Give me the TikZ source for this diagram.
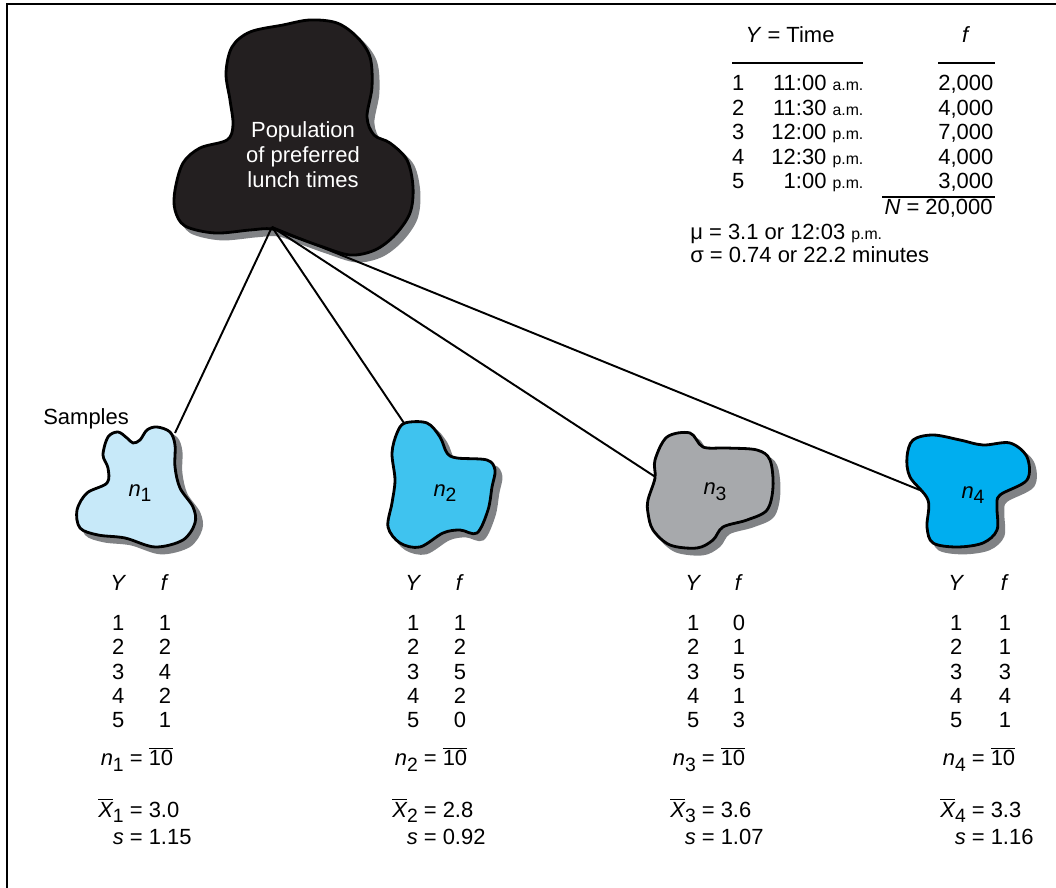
\documentclass[tikz,border=0pt]{standalone}
\usepackage{fontspec}
\setmainfont{Liberation Sans}
\usepackage{array}
\usetikzlibrary{positioning}

\definecolor{popblack}{HTML}{231F20}
\definecolor{shadowgray}{HTML}{808285}
\definecolor{paleblue}{HTML}{C7E9F9}
\definecolor{midblue}{HTML}{3FC3EF}
\definecolor{stonegray}{HTML}{A7A9AC}
\definecolor{deepblue}{HTML}{00AEEF}

\newcommand{\lowsub}[1]{\raisebox{-0.5ex}{\fontsize{11}{11}\selectfont #1}}
\newcommand{\ampm}[1]{{\fontsize{9}{10}\selectfont #1}}

\begin{document}
\begin{tikzpicture}[
  x=0.02cm, y=-0.02cm,
  every node/.style={font=\fontsize{12.5}{13.9}\selectfont, inner sep=0pt},
  blob/.style={draw=black, line width=1.6pt, line join=round,
               preaction={fill=shadowgray, draw=shadowgray, line width=1.6pt,
                          transform canvas={shift={(3.4pt,-3.4pt)}}}},
  link/.style={line width=1.1pt},
  tabrule/.style={line width=0.8pt},
  datatab/.style={anchor=north west},
  stattab/.style={anchor=north west},
]
\useasboundingbox (0,0) rectangle (1056,888);
\draw[line width=1.5pt] (7,888) -- (7,4) -- (1056,4);

% population
\path[blob, fill=popblack] plot[smooth cycle, tension=0.55] coordinates {
  (232,47) (250,32) (283,25) (310,20) (337,23) (357,37) (370,57) (372,87)
  (367,117) (374,135) (390,143) (407,160) (413,187) (410,213) (395,235)
  (375,250) (350,255) (320,246) (295,237) (272,229) (250,230) (215,233)
  (185,226) (175,210) (175,190) (183,163) (200,148) (227,140) (233,125)
  (230,100) (226,73)};
\node[white, align=center, font=\fontsize{12.5}{14.2}\selectfont] (poplabel) at (303,155)
  {Population\\of preferred\\lunch times};

\coordinate (popfoot) at (272,227);
\coordinate (s1top)  at (175,433);
\coordinate (s2top)  at (406,426);
\coordinate (s3side) at (657,478);
\coordinate (s4side) at (932,495);

\draw[link] (popfoot) -- (s1top);
\draw[link] (popfoot) -- (s2top);
\draw[link] (popfoot) -- (s3side);
\draw[link] (popfoot) -- (s4side);

% samples
\path[blob, fill=paleblue] plot[smooth cycle, tension=0.55] coordinates {
  (103,455) (108,437) (118,432) (127,438) (133,443) (140,440) (147,430)
  (157,427) (170,432) (175,445) (175,467) (180,488) (193,507) (195,523)
  (183,540) (155,547) (125,538) (98,535) (80,528) (77,510) (87,493)
  (107,483) (108,468)};
\path[blob, fill=midblue] plot[smooth cycle, tension=0.55] coordinates {
  (405,423) (427,423) (440,437) (447,453) (457,458) (487,460) (495,470)
  (492,487) (488,510) (477,533) (460,530) (443,533) (420,547) (400,543)
  (388,527) (392,503) (395,480) (392,453) (397,433)};
\path[blob, fill=stonegray] plot[smooth cycle, tension=0.55] coordinates {
  (655,460) (667,437) (690,433) (703,447) (727,448) (757,450) (770,460)
  (773,487) (767,510) (747,520) (723,527) (713,540) (697,548) (670,545)
  (653,530) (648,513) (648,500) (655,478)};
\path[blob, fill=deepblue] plot[smooth cycle, tension=0.55] coordinates {
  (907,457) (913,440) (933,435) (960,440) (983,445) (1010,443) (1027,457)
  (1027,480) (1000,495) (997,507) (997,530) (983,543) (957,547) (933,543)
  (927,527) (928,500) (910,477)};

\node (n1lab) at (140,493) {\textit{n}\lowsub{1}};
\node (n2lab) at (445,493) {\textit{n}\lowsub{2}};
\node (n3lab) at (715,492) {\textit{n}\lowsub{3}};
\node (n4lab) at (973,495) {\textit{n}\lowsub{4}};

\node[anchor=base west] (samples) at (43,425) {Samples};

% population table
\node[anchor=base] (yhead) at (790,43) {\textit{Y} = Time};
\node[anchor=base] (fhead) at (966,43) {\textit{f}};
\draw[tabrule] (732,63) -- (863,63);
\draw[tabrule] (938,63) -- (995,63);
\node[anchor=north west] (poptab) at (728,73.5) {%
  \begin{tabular}{@{}>{\centering\arraybackslash}p{0.4cm}@{}>{\raggedleft\arraybackslash}p{2.3cm}@{}>{\raggedleft\arraybackslash}p{2.6cm}@{}}
  1 & 11:00 \ampm{a.m.} & 2,000\\
  2 & 11:30 \ampm{a.m.} & 4,000\\
  3 & 12:00 \ampm{p.m.} & 7,000\\
  4 & 12:30 \ampm{p.m.} & 4,000\\
  5 & 1:00 \ampm{p.m.}  & 3,000
  \end{tabular}};
\draw[tabrule] (882,197) -- (995,197);
\node[anchor=base east] (ntotal) at (993,215) {\textit{N} = 20,000};
\node[anchor=base west] (mu) at (690,239.5) {μ = 3.1 or 12:03 \ampm{p.m.}};
\node[anchor=base west] (sigma) at (690,262.5) {σ = 0.74 or 22.2 minutes};

% sample tables
\node[datatab] (d1) at (110,573.5) {%
  \begin{tabular}{@{}c@{\hspace{0.65cm}}c@{}}
  \textit{Y} & \textit{f}\\[8.5pt]
  1 & 1\\ 2 & 2\\ 3 & 4\\ 4 & 2\\ 5 & 1
  \end{tabular}};
\node[datatab] (d2) at (405,573.5) {%
  \begin{tabular}{@{}c@{\hspace{0.65cm}}c@{}}
  \textit{Y} & \textit{f}\\[8.5pt]
  1 & 1\\ 2 & 2\\ 3 & 5\\ 4 & 2\\ 5 & 0
  \end{tabular}};
\node[datatab] (d3) at (685,573.5) {%
  \begin{tabular}{@{}c@{\hspace{0.63cm}}c@{}}
  \textit{Y} & \textit{f}\\[8.5pt]
  1 & 0\\ 2 & 1\\ 3 & 5\\ 4 & 1\\ 5 & 3
  \end{tabular}};
\node[datatab] (d4) at (948,573.5) {%
  \begin{tabular}{@{}c@{\hspace{0.69cm}}c@{}}
  \textit{Y} & \textit{f}\\[8.5pt]
  1 & 1\\ 2 & 1\\ 3 & 3\\ 4 & 4\\ 5 & 1
  \end{tabular}};

\node[stattab] (st1) at (98,746.5) {%
  \begin{tabular}{@{}r@{\ =\ }l@{}}
  \textit{n}\lowsub{1} & $\overline{\mbox{10}}$\\[14.5pt]
  $\overline{\mbox{\itshape X}}$\lowsub{1} & 3.0\\[1.5pt]
  \textit{s} & 1.15
  \end{tabular}};
\node[stattab] (st2) at (392,746.5) {%
  \begin{tabular}{@{}r@{\ =\ }l@{}}
  \textit{n}\lowsub{2} & $\overline{\mbox{10}}$\\[14.5pt]
  $\overline{\mbox{\itshape X}}$\lowsub{2} & 2.8\\[1.5pt]
  \textit{s} & 0.92
  \end{tabular}};
\node[stattab] (st3) at (670,746.5) {%
  \begin{tabular}{@{}r@{\ =\ }l@{}}
  \textit{n}\lowsub{3} & $\overline{\mbox{10}}$\\[14.5pt]
  $\overline{\mbox{\itshape X}}$\lowsub{3} & 3.6\\[1.5pt]
  \textit{s} & 1.07
  \end{tabular}};
\node[stattab] (st4) at (940,746.5) {%
  \begin{tabular}{@{}r@{\ =\ }l@{}}
  \textit{n}\lowsub{4} & $\overline{\mbox{10}}$\\[14.5pt]
  $\overline{\mbox{\itshape X}}$\lowsub{4} & 3.3\\[1.5pt]
  \textit{s} & 1.16
  \end{tabular}};
\end{tikzpicture}
\end{document}
